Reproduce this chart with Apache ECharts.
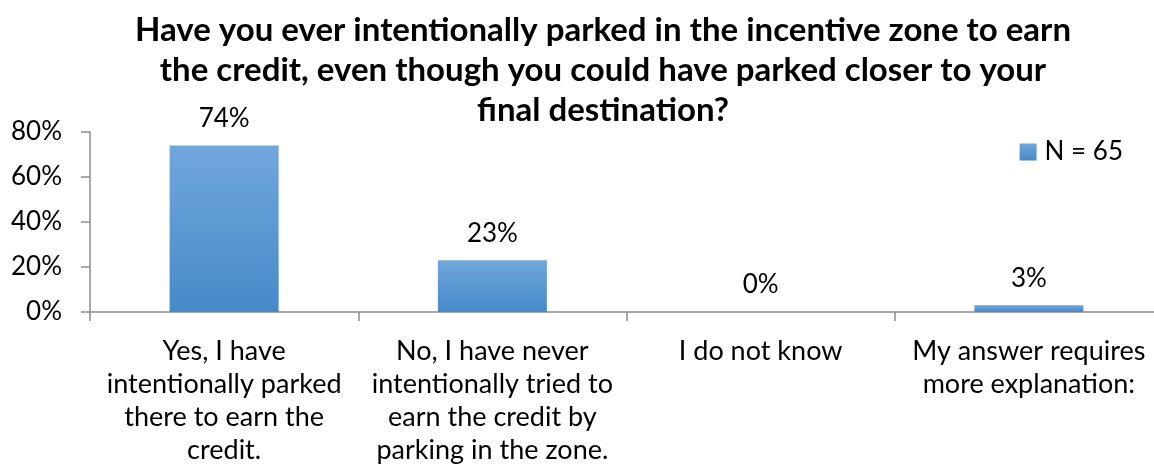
<!DOCTYPE html>
<html><head><meta charset="utf-8">
<script src="https://cdn.jsdelivr.net/npm/echarts@6/dist/echarts.min.js"></script>
<style>html,body{margin:0;padding:0;background:#fff;overflow:hidden;width:1154px;height:470px}#c{width:1163px;height:470px}</style>
</head><body><div id="c"></div>
<script>
const titleText = "Have you ever intentionally parked in the incentive zone to earn\nthe credit, even though you could have parked closer to your\nfinal destination?";
const categories = [
  "Yes, I have\nintentionally parked\nthere to earn the\ncredit.",
  "No, I have never\nintentionally tried to\nearn the credit by\nparking in the zone.",
  "I do not know",
  "My answer requires\nmore explanation:"
];
const seriesName = "N = 65";
const values = [74, 23, 0, 3];
const yTicks = [0, 20, 40, 60, 80];

const FONT = "Lato";
const chart = echarts.init(document.getElementById('c'), null, {renderer: 'canvas'});
const grad = new echarts.graphic.LinearGradient(0, 0, 0, 1, [
  {offset: 0, color: '#70A7DD'},
  {offset: 1, color: '#4689C8'}
]);
chart.setOption({
  animation: false,
  backgroundColor: '#fff',
  title: {
    text: titleText,
    left: 598, top: 5, textAlign: 'center',
    textStyle: {fontFamily: FONT, fontWeight: 'bold', fontSize: 33, lineHeight: 40, color: '#000'}
  },
  legend: {
    data: [seriesName],
    right: 35, top: 134,
    itemWidth: 17, itemHeight: 17,
    icon: 'rect',
    textStyle: {fontFamily: FONT, fontSize: 26, color: '#000', padding: [0, 0, 0, 3]}
  },
  grid: {left: 90, right: 0, top: 132, bottom: 158},
  xAxis: {
    type: 'category',
    data: categories,
    axisLine: {lineStyle: {color: '#8C8C8C', width: 1.5}},
    axisTick: {show: true, length: 9, lineStyle: {color: '#8C8C8C', width: 1.5}},
    axisLabel: {interval: 0, margin: 23, fontFamily: FONT, fontSize: 27, lineHeight: 33, color: '#000'}
  },
  yAxis: {
    type: 'value', min: 0, max: 80, interval: 20,
    axisLine: {show: true, lineStyle: {color: '#8C8C8C', width: 1.5}},
    axisTick: {show: true, length: 9, lineStyle: {color: '#8C8C8C', width: 1.5}},
    splitLine: {show: false},
    axisLabel: {margin: 28, fontFamily: FONT, fontSize: 26, color: '#000', formatter: v => yTicks.includes(v) ? v + '%' : ''}
  },
  series: [{
    name: seriesName,
    type: 'bar',
    data: values,
    barWidth: 109,
    itemStyle: {color: grad},
    label: {show: true, position: 'top', distance: 14, fontFamily: FONT, fontSize: 26, color: '#000', formatter: p => p.value + '%'}
  }]
});
</script></body></html>
